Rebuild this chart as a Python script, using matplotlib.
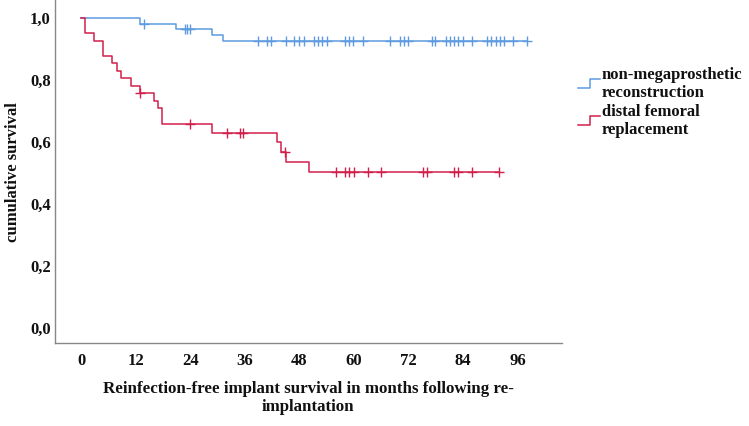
import numpy as np
import matplotlib
matplotlib.use("Agg")
import matplotlib.pyplot as plt
from matplotlib.lines import Line2D

plt.rcParams['font.family'] = ['Liberation Serif', 'DejaVu Serif']
plt.rcParams['font.weight'] = 'bold'

# datos (meses, supervivencia acumulada)
blue_label = "non-megaprosthetic\nreconstruction"
blue_times = [0, 13.0, 20.9, 28.9, 31.1]
blue_surv = [1.0, 0.981, 0.965, 0.946, 0.925]
blue_censor = [13.9, 22.9, 23.4, 24.0, 39.0, 40.9, 41.7, 45.1, 46.9, 47.9, 49.0,
               51.1, 52.0, 52.9, 54.0, 58.0, 58.9, 59.7, 61.9, 67.9, 70.1, 71.0,
               71.9, 77.1, 77.8, 80.2, 81.1, 82.0, 82.9, 83.9, 86.0, 89.2, 90.1,
               91.1, 92.1, 93.0, 95.0, 98.1]

red_label = "distal femoral\nreplacement"
red_times = [0, 0.95, 2.9, 4.9, 6.9, 8.0, 8.9, 10.9, 12.9, 16.0, 16.9, 17.9,
             28.9, 43.0, 43.9, 45.0, 50.0]
red_surv = [1.0, 0.951, 0.927, 0.877, 0.854, 0.830, 0.805, 0.781, 0.757, 0.733,
            0.709, 0.657, 0.630, 0.599, 0.567, 0.537, 0.504]
red_censor = [12.9, 24.0, 32.0, 35.0, 35.7, 44.9, 56.0, 58.0, 59.0, 59.9, 63.0,
              65.9, 75.1, 76.0, 82.0, 82.9, 86.0, 91.9]

x_ticks = [0, 12, 24, 36, 48, 60, 72, 84, 96]
y_ticks = [0.0, 0.2, 0.4, 0.6, 0.8, 1.0]

BLUE = "#5e9be0"
RED = "#d21f4b"

W, H = 749, 426
fig = plt.figure(figsize=(W / 100, H / 100), dpi=100)
ax = fig.add_axes([55 / W, (H - 343) / H, (562 - 55) / W, 343 / H])


def curva(times, surv, censor, color):
    t = np.array(times, dtype=float)
    s = np.array(surv, dtype=float)
    fin = max(t[-1], max(censor))
    ax.step(np.append(t, fin), np.append(s, s[-1]), where='post',
            color=color, lw=1.1)
    idx = np.searchsorted(t, censor, side='right') - 1
    ax.plot(censor, s[idx], linestyle='none', marker='+', color=color,
            markersize=7, mew=1.0)


curva(blue_times, blue_surv, blue_censor, BLUE)
curva(red_times, red_surv, red_censor, RED)

ax.set_xlim((55 - 81) / 4.55, (562 - 81) / 4.55)
ax.set_ylim((328 - 343) / 310, 328 / 310)
ax.set_xticks(x_ticks)
ax.set_yticks(y_ticks)
ax.set_yticklabels([f"{v:.1f}".replace('.', ',') for v in y_ticks])
ax.tick_params(length=0, labelsize=12, colors='#111111')
ax.tick_params(axis='x', pad=7)
ax.tick_params(axis='y', pad=3)
for lab in ax.get_xticklabels() + ax.get_yticklabels():
    lab.set_fontweight('bold')

for lado in ['top', 'right']:
    ax.spines[lado].set_visible(False)
for lado in ['left', 'bottom']:
    ax.spines[lado].set_color('#888888')
    ax.spines[lado].set_linewidth(1.0)

fig.text(308 / W, 1 - 398 / H,
         "Reinfection-free implant survival in months following re-\nimplantation",
         ha='center', va='center', fontsize=12.2, fontweight='bold',
         linespacing=1.1, color='#111111')
fig.text(13 / W, 1 - 172 / H, "cumulative survival", rotation=90,
         ha='center', va='center', fontsize=12, fontweight='bold', color='#111111')

# leyenda a mano
for (y0, col, txt) in [(84, BLUE, blue_label), (121, RED, red_label)]:
    xs = np.array([578, 590, 590, 600]) / W
    ys = 1 - np.array([y0 + 4, y0 + 4, y0 - 5, y0 - 5]) / H
    fig.add_artist(Line2D(xs, ys, color=col, lw=1.1))
    fig.text(602 / W, 1 - y0 / H, txt, ha='left', va='center', fontsize=12,
             fontweight='bold', linespacing=1.2, color='#111111')

fig.savefig("out.png", dpi=100)
